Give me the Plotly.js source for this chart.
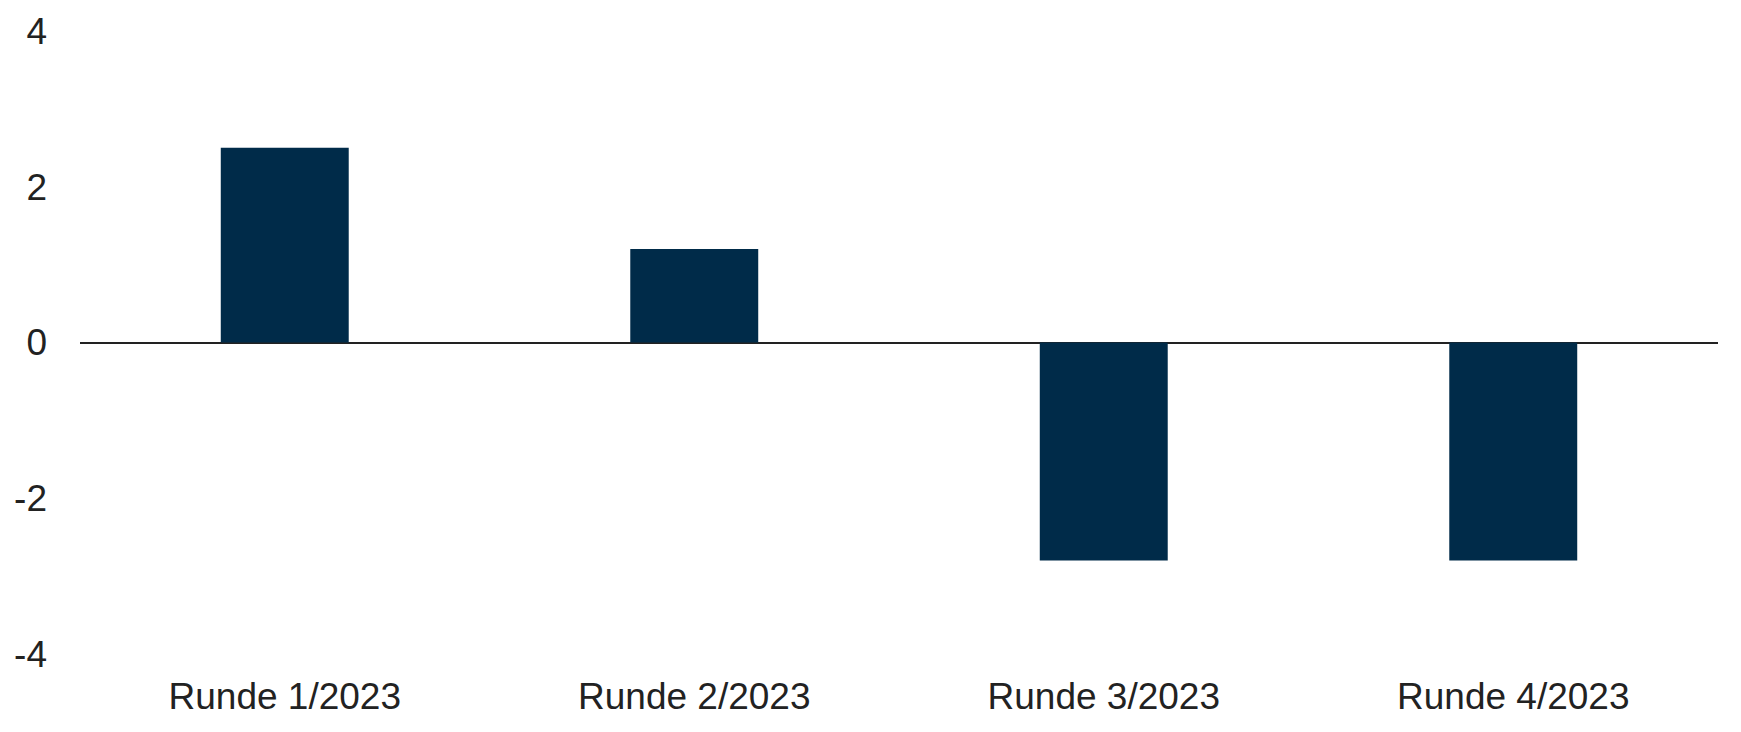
<!DOCTYPE html>
<html>
<head>
<meta charset="utf-8">
<script src="https://cdn.plot.ly/plotly-3.0.1.min.js"></script>
<style>html,body{margin:0;padding:0;background:#fff;}#chart{width:1741px;height:732px;}</style>
</head>
<body>
<div id="chart"></div>
<script>
const categories = ["Runde 1/2023", "Runde 2/2023", "Runde 3/2023", "Runde 4/2023"];
const values = [2.5, 1.2, -2.8, -2.8];
const yTicks = [-4, -2, 0, 2, 4];
const yTickLabels = ["-4", "-2", "0", "2", "4"];

const trace = {
  type: "bar",
  x: categories,
  y: values,
  marker: {color: "#002B49"},
  hoverinfo: "x+y"
};

const layout = {
  width: 1741,
  height: 732,
  margin: {l: 80, r: 23, t: 31, b: 78},
  paper_bgcolor: "#ffffff",
  plot_bgcolor: "#ffffff",
  bargap: 0.6875,
  showlegend: false,
  font: {family: "Liberation Sans, Arial, sans-serif", size: 37, color: "#222222"},
  xaxis: {
    type: "category",
    showgrid: false,
    showline: false,
    zeroline: false,
    ticks: "",
    ticklabelstandoff: 17,
    tickfont: {size: 37, color: "#222222"}
  },
  yaxis: {
    range: [-4, 4],
    tickvals: yTicks,
    ticktext: yTickLabels,
    showgrid: false,
    showline: false,
    zeroline: true,
    zerolinecolor: "#222222",
    zerolinewidth: 2,
    ticks: "",
    ticklabelstandoff: 32,
    tickfont: {size: 37, color: "#222222"}
  }
};

Plotly.newPlot("chart", [trace], layout, {displayModeBar: false, staticPlot: true});
</script>
</body>
</html>
